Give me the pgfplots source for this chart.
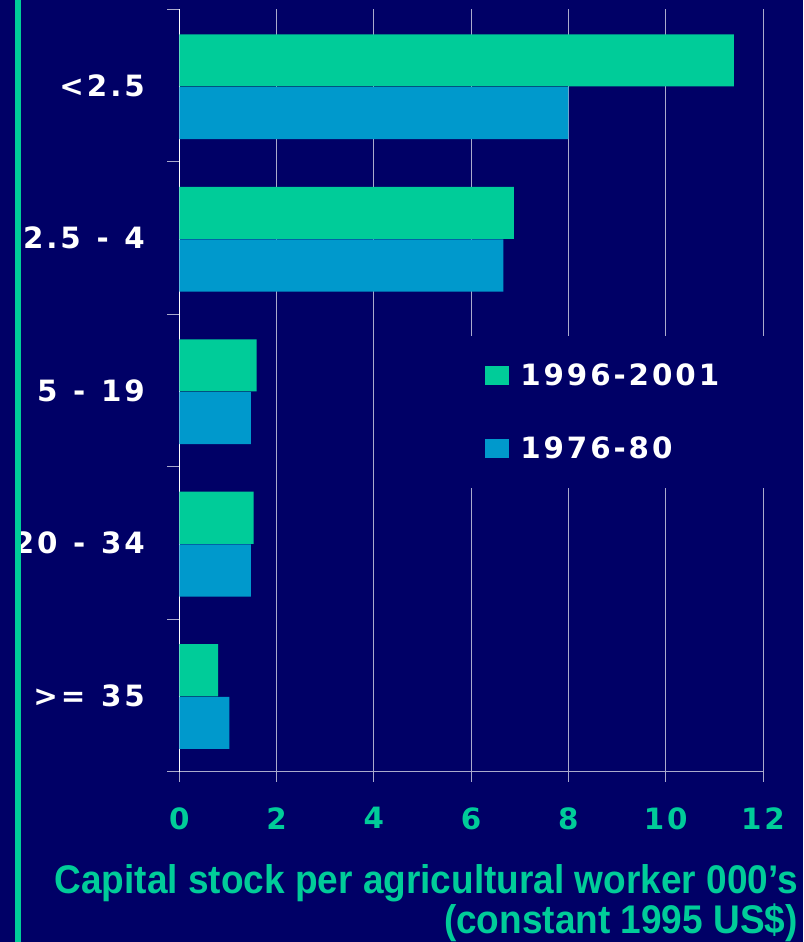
\documentclass[border=0pt]{standalone}
\usepackage{pgfplots}
\pgfplotsset{compat=1.18}
\usepackage{fontspec}
\newfontfamily\tickfont[LetterSpace=10, WordSpace=1.19]{DejaVu Sans}
\newfontfamily\titlefont[FakeStretch=0.925]{Liberation Sans}
\definecolor{bg}{RGB}{0,0,102}
\definecolor{cgreen}{RGB}{0,204,153}
\definecolor{cblue}{RGB}{0,153,204}
\definecolor{gridc}{RGB}{170,170,204}
\begin{document}
\begin{tikzpicture}
\fill[bg] (-134.48pt,-127.73pt) rectangle (467.78pt,578.78pt);
\useasboundingbox (-134.48pt,-127.73pt) rectangle (467.78pt,578.78pt);
\begin{axis}[
  at={(0pt,0pt)}, anchor=south west,
  scale only axis, width=437.78pt, height=571.8pt,
  xbar, xmin=0, xmax=12, ymin=0.5, ymax=5.5,
  ytick={1,2,3,4,5},
  yticklabels={{>= 35},{20 - 34},{5 - 19},{2.5 - 4},{<2.5}},
  minor ytick={0.5,1.5,2.5,3.5,4.5,5.5},
  xtick={0,2,4,6,8,10,12},
  xticklabels={0,2,4,6,8,10,12},
  tick align=outside,
  major tick length=7.5pt, minor tick length=9pt,
  major y tick style={draw=none},
  minor y tick style={draw=gridc, line width=0.75pt},
  major x tick style={draw=gridc, line width=0.75pt},
  xmajorgrids,
  x grid style={gridc, line width=0.75pt},
  axis x line*=bottom, axis y line*=left,
  x axis line style={gridc, line width=0.75pt, -},
  y axis line style={white, line width=0.75pt, -},
  xticklabel style={font=\tickfont\bfseries\fontsize{22}{26}\selectfont, text=cgreen, inner sep=0pt, anchor=north, yshift=-19pt},
  yticklabel style={font=\tickfont\bfseries\fontsize{22}{26}\selectfont, text=white, inner sep=0pt, anchor=east, xshift=-18.2pt},
  xlabel={Capital stock per agricultural worker 000’s\\(constant 1995 US\$)},
  xlabel style={at={(rel axis cs:1,0)}, anchor=north east, align=right, inner sep=0pt,
    xshift=26.25pt, yshift=-69.5pt,
    font=\titlefont\bfseries\fontsize{30}{28.5}\selectfont, text=cgreen},
  legend style={at={(0.4946,0.5715)}, anchor=north west, fill=bg, draw=none,
    inner xsep=12.75pt, inner ysep=20.25pt, row sep=37.5pt, column sep=8.25pt,
    font=\tickfont\bfseries\fontsize{22}{26}\selectfont, text=white,
    nodes={inner sep=0pt}},
  legend cell align=left,
  legend image code/.code={\fill[#1] (0pt,-7.1pt) rectangle (18pt,7.1pt);},
]
\addplot[xbar, fill=cgreen, draw=none, bar width=0.342, bar shift=0.165]
  coordinates {(0.80,1) (1.53,2) (1.59,3) (6.88,4) (11.40,5)};
\addlegendentry{1996-2001\hspace*{30pt}}
\addplot[xbar, fill=cblue, draw=none, bar width=0.342, bar shift=-0.18]
  coordinates {(1.03,1) (1.47,2) (1.47,3) (6.66,4) (8.00,5)};
\addlegendentry{1976-80}
\end{axis}
\fill[cgreen] (-123.2pt,-127.73pt) rectangle (-118.7pt,578.78pt);
\end{tikzpicture}
\end{document}
